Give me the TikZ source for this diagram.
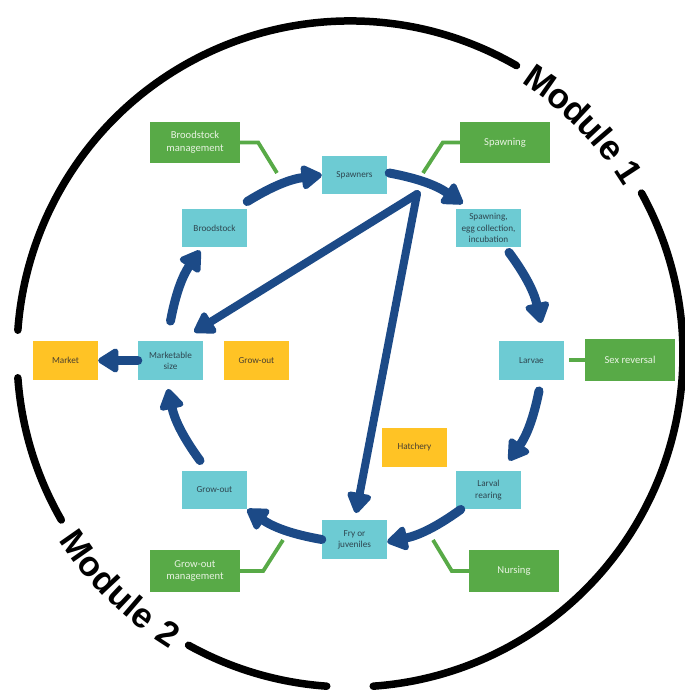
\documentclass[tikz,border=0pt]{standalone}
\usepackage{fontspec}
\setmainfont{Carlito}
\newfontfamily\modfont{Liberation Sans}
\usetikzlibrary{arrows.meta,decorations.text}

\definecolor{stagecyan}{HTML}{6DCBD3}
\definecolor{taskgreen}{HTML}{58AA47}
\definecolor{placeyellow}{HTML}{FFC325}
\definecolor{flowblue}{HTML}{1C4A87}
\definecolor{stagetext}{HTML}{2E4650}
\definecolor{tasktext}{HTML}{E8F3E2}
\definecolor{placetext}{HTML}{4A4030}

\begin{document}
\begin{tikzpicture}[x=1pt,y=1pt,
  stage/.style={rectangle, fill=stagecyan, minimum width=65pt, minimum height=38.5pt,
    inner sep=0pt, align=center, text=stagetext, font=\fontsize{9.2}{11.3}\selectfont},
  task/.style={rectangle, fill=taskgreen, minimum width=90pt, minimum height=41.5pt,
    inner sep=0pt, align=center, text=tasktext, font=\fontsize{10.6}{12.7}\selectfont},
  place/.style={rectangle, fill=placeyellow, minimum width=65pt, minimum height=39pt,
    inner sep=0pt, align=center, text=placetext, font=\fontsize{9.2}{11.3}\selectfont},
  flow/.style={draw=flowblue, line width=9pt, line cap=round,
    -{Triangle[length=23pt,width=27pt,round]}},
  chord/.style={draw=flowblue, line width=8pt, line cap=round,
    -{Triangle[length=23pt,width=27pt,round]}},
  leader/.style={draw=taskgreen, line width=3.8pt},
  ring/.style={draw=black, line width=7.5pt, line cap=round},
  modlabel/.style={decorate, decoration={text along path, text align=center,
    raise=-12.5pt, text={#1}}}
]
\useasboundingbox (0,0) rectangle (685,691);

% outer module ring
\coordinate (C) at (350,337);
\draw[ring] ([shift={(60.0:333)}]C) arc[start angle=60.0, end angle=175.9, radius=333];
\draw[ring] ([shift={(184.1:333)}]C) arc[start angle=184.1, end angle=209.9, radius=333];
\draw[ring] ([shift={(241.0:333)}]C) arc[start angle=241.0, end angle=266.0, radius=333];
\draw[ring] ([shift={(274.0:333)}]C) arc[start angle=274.0, end angle=388.9, radius=333];

\path[modlabel={|\modfont\bfseries\fontsize{35}{35}\selectfont|Module 1}]
  ([shift={(62:333)}]C) arc[start angle=62, end angle=27, radius=333];
\path[modlabel={|\modfont\bfseries\fontsize{35}{35}\selectfont|Module 2}]
  ([shift={(208:333)}]C) arc[start angle=208, end angle=243, radius=333];

% life-cycle stages
\node[stage] (spawners)      at (354.5,516)   {Spawners};
\node[stage] (spawnegg)      at (488.5,463)   {Spawning,\\egg collection,\\incubation};
\node[stage] (larvae)        at (531.5,330.5) {Larvae};
\node[stage] (larvalrearing) at (488.5,201)   {Larval\\rearing};
\node[stage] (fry)           at (354.5,151.5) {Fry or\\juveniles};
\node[stage] (growout)       at (214.5,201)   {Grow-out};
\node[stage] (marketable)    at (170.5,330.5) {Marketable\\size};
\node[stage] (broodstock)    at (214.5,463)   {Broodstock};

% management tasks
\node[task] (bmgmt)    at (195,548.5) {Broodstock\\management};
\node[task] (spawning) at (505,548.5) {Spawning};
\node[task] (sexrev)   at (630,331)   {Sex reversal};
\node[task] (gmgmt)    at (195,120)   {Grow-out\\management};
\node[task] (nursing)  at (514,120)   {Nursing};

% places
\node[place] (market)   at (65.5,330.5)  {Market};
\node[place] (growyard) at (256.5,330.5) {Grow-out};
\node[place] (hatchery) at (414.5,243.5) {Hatchery};

% task leaders
\coordinate (bmEnd) at (277,518);
\coordinate (spEnd) at (423,518);
\coordinate (srEnd) at (569,331);
\coordinate (gmEnd) at (283,151);
\coordinate (nuEnd) at (433,151);
\draw[leader] (bmgmt.east) -- ++(18,0) -- (bmEnd);
\draw[leader] (spawning.west) -- ++(-17,0) -- (spEnd);
\draw[leader] (sexrev.west) -- (srEnd);
\draw[leader] (gmgmt.east) -- ++(23,0) -- (gmEnd);
\draw[leader] (nursing.west) -- ++(-17,0) -- (nuEnd);

% cycle
\draw[flow] ([yshift=7pt]broodstock.north east) to[bend left=12] (spawners.west);
\draw[flow] ([xshift=2pt,yshift=2pt]spawners.east) to[bend left=12] ([xshift=7pt,yshift=5pt]spawnegg.north west);
\draw[flow] ([xshift=20.5pt,yshift=-5pt]spawnegg.south) to[bend left=12] ([xshift=9.5pt,yshift=18pt]larvae.north);
\draw[flow] ([xshift=7.5pt,yshift=-11pt]larvae.south) to[bend left=12] ([xshift=20.5pt,yshift=10pt]larvalrearing.north);
\draw[flow] ([xshift=5pt]larvalrearing.south west) to[bend left=12] ([yshift=-2.5pt]fry.east);
\draw[flow] (fry.west) to[bend left=12] (growout.south east);
\draw[flow] ([xshift=-14.5pt,yshift=10pt]growout.north) to[bend left=12] ([xshift=-2.5pt,yshift=-9pt]marketable.south);
\draw[flow] ([yshift=20pt]marketable.north) to[bend left=12] ([xshift=-14.5pt,yshift=-3pt]broodstock.south);
\draw[flow] (marketable.west) -- (market.east);

% shortcuts from spawners
\coordinate (split) at (417,497);
\draw[chord] (split) -- ([xshift=-9pt,yshift=9pt]marketable.north east);
\draw[chord] (split) -- ([xshift=1.5pt,yshift=7pt]fry.north);
\end{tikzpicture}
\end{document}
